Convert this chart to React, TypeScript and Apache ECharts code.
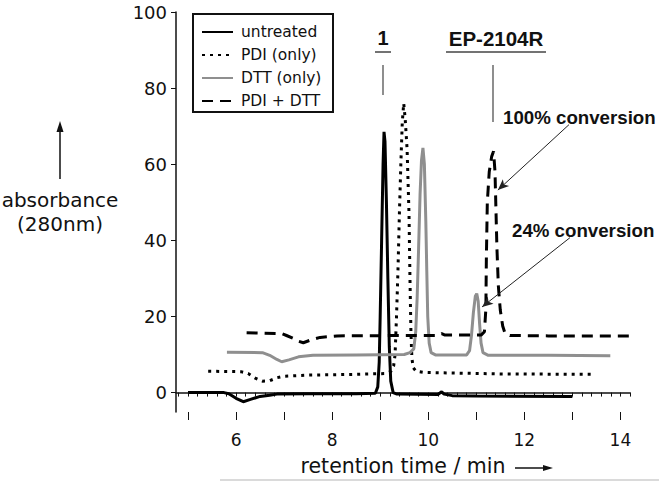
import React, { useEffect, useRef } from "react";
import * as echarts from "echarts";

// ---- data (retention time [min], absorbance) ----
const untreated: [number, number][] = [
  [5.0, 0], [5.75, 0], [5.85, -0.3], [6.0, -1.5], [6.15, -2.4], [6.3, -1.8], [6.5, -1.0],
  [6.7, -0.7], [6.85, -0.4], [7.5, -0.3], [8.5, -0.3], [8.9, -0.2], [8.95, 1.5], [8.98, 8],
  [9.0, 20], [9.03, 40], [9.06, 60], [9.08, 68.5], [9.1, 66], [9.13, 50], [9.16, 30],
  [9.19, 12], [9.22, 3], [9.27, 0], [9.35, -0.4], [10.2, -0.5], [10.28, 0.2], [10.33, -0.4],
  [10.5, -0.8], [11.0, -0.9], [13.0, -1.0],
];
const pdiOnly: [number, number][] = [
  [5.42, 5.6], [6.1, 5.5], [6.25, 5.0], [6.4, 3.8], [6.55, 3.0], [6.7, 3.1], [6.85, 3.9],
  [7.0, 4.3], [7.5, 4.6], [8.5, 4.8], [9.1, 5.0], [9.22, 5.5], [9.28, 7], [9.31, 10],
  [9.34, 20], [9.37, 32], [9.4, 47], [9.43, 60], [9.46, 71], [9.49, 76], [9.52, 72],
  [9.56, 64], [9.6, 47], [9.62, 30], [9.64, 16], [9.66, 9], [9.69, 6.5], [9.75, 5.6],
  [9.9, 5.3], [10.7, 5.1], [11.5, 4.9], [13.4, 4.8],
];
const dttOnly: [number, number][] = [
  [5.81, 10.6], [6.55, 10.5], [6.7, 9.8], [6.85, 8.7], [6.95, 8.1], [7.1, 8.6], [7.3, 9.4],
  [7.6, 9.8], [8.5, 9.9], [9.5, 10.0], [9.62, 10.5], [9.7, 11.5], [9.74, 16], [9.77, 25],
  [9.8, 38], [9.83, 52], [9.86, 61], [9.89, 64.3], [9.92, 60], [9.95, 45], [9.97, 32],
  [9.99, 20], [10.02, 13], [10.06, 10.5], [10.15, 9.9], [10.8, 9.9], [10.86, 11], [10.9, 15],
  [10.94, 21], [10.98, 25.3], [11.01, 26], [11.04, 24], [11.07, 18], [11.1, 13], [11.14, 10.5],
  [11.25, 9.8], [12.5, 9.8], [13.79, 9.7],
];
const pdiDtt: [number, number][] = [
  [6.22, 15.7], [6.95, 15.5], [7.05, 15.0], [7.18, 14.3], [7.3, 13.5], [7.4, 13.1], [7.55, 13.8],
  [7.75, 14.5], [8.1, 14.9], [9.5, 15.0], [10.2, 15.0], [10.28, 15.5], [10.35, 15.1], [11.1, 15.1],
  [11.17, 16], [11.2, 22], [11.21, 35], [11.23, 50], [11.27, 58], [11.32, 62], [11.36, 63.4],
  [11.39, 58], [11.41, 48], [11.43, 38], [11.46, 28], [11.5, 21.7], [11.55, 17.5], [11.6, 15.5],
  [11.7, 15.0], [12.5, 14.9], [14.2, 14.9],
];
const seriesNames = ["untreated", "PDI (only)", "DTT (only)", "PDI + DTT"];
const yTicks = [0, 20, 40, 60, 80, 100];
const xLabels = [6, 8, 10, 12, 14];
const xIntTicks = [5, 6, 7, 8, 9, 10, 11, 12, 13, 14];
const xMinorTicks: number[] = [];
for (let i = 0; i <= 47; i++) xMinorTicks.push(Math.round((4.8 + i * 0.2) * 10) / 10);

// arrows: [text end, peak end] in data coordinates
const arrow100: [number, number][] = [[12.93, 70.4], [11.45, 53.2]];
const arrow24: [number, number][] = [[12.95, 40.7], [11.12, 22.5]];

const FONT = "DejaVu Sans";
const BOLD = "Liberation Sans";

export default function App() {
  const ref = useRef<HTMLDivElement>(null);
  useEffect(() => {
    if (!ref.current) return;
    const chart = echarts.init(ref.current, undefined, { renderer: "svg" });
    const arrowMark = (pts: [number, number][]) => ({
      silent: true,
      symbol: ["none", "arrow"],
      symbolSize: [7, 11],
      label: { show: false },
      lineStyle: { type: "solid", width: 1, color: "#222" },
      emphasis: { disabled: true },
      data: [[{ coord: pts[0] }, { coord: pts[1] }]],
    });
    chart.setOption({
      animation: false,
      grid: { left: 176, right: 29, top: 12, bottom: 63, containLabel: false },
      legend: {
        orient: "vertical",
        left: 201,
        top: 24,
        padding: 0,
        itemWidth: 31,
        itemHeight: 14,
        itemGap: 7,
        selectedMode: false,
        data: seriesNames,
        itemStyle: { opacity: 0 },
        textStyle: { fontFamily: FONT, fontSize: 15.5, color: "#111", padding: [0, 0, 0, 3] },
      },
      xAxis: [
        {
          type: "value",
          min: 4.75,
          max: 14.2,
          name: "retention time / min",
          nameLocation: "middle",
          nameGap: 43,
          nameTextStyle: { fontFamily: FONT, fontSize: 20.5, color: "#111" },
          axisLine: { show: true, lineStyle: { color: "#111", width: 1.5 } },
          axisTick: { show: true, length: 4, customValues: xMinorTicks, lineStyle: { color: "#111", width: 1 } },
          axisLabel: { customValues: xLabels, margin: 19, fontFamily: FONT, fontSize: 17, color: "#111" },
          splitLine: { show: false },
        },
        {
          type: "value",
          min: 4.75,
          max: 14.2,
          position: "bottom",
          axisLine: { show: false },
          axisTick: { show: true, length: 8, customValues: xIntTicks, lineStyle: { color: "#111", width: 1 } },
          axisLabel: { show: false },
          splitLine: { show: false },
        },
      ],
      yAxis: {
        type: "value",
        min: -5.1,
        max: 100,
        axisLine: { show: true, lineStyle: { color: "#111", width: 1.5 } },
        axisTick: { show: true, length: 5, customValues: yTicks, lineStyle: { color: "#111", width: 1 } },
        axisLabel: { customValues: yTicks, margin: 9, fontFamily: FONT, fontSize: 18, color: "#111" },
        splitLine: { show: false },
      },
      series: [
        {
          name: seriesNames[0], type: "line", data: untreated, symbol: "none", smooth: false,
          lineStyle: { color: "#000", width: 3 }, itemStyle: { color: "#000" },
        },
        {
          name: seriesNames[1], type: "line", data: pdiOnly, symbol: "none", smooth: false,
          lineStyle: { color: "#000", width: 3, type: [3, 5] }, itemStyle: { color: "#000" },
        },
        {
          name: seriesNames[2], type: "line", data: dttOnly, symbol: "none", smooth: false,
          lineStyle: { color: "#8f8f8f", width: 3 }, itemStyle: { color: "#8f8f8f" },
          markLine: arrowMark(arrow24),
        },
        {
          name: seriesNames[3], type: "line", data: pdiDtt, symbol: "none", smooth: false,
          lineStyle: { color: "#000", width: 3, type: [11, 7] }, itemStyle: { color: "#000" },
          markLine: arrowMark(arrow100),
        },
      ],
      graphic: [
        // legend frame
        { type: "rect", shape: { x: 193, y: 14, width: 140, height: 98 }, style: { fill: "none", stroke: "#111", lineWidth: 2 }, silent: true },
        // y axis title and arrow
        { type: "text", x: 60, y: 200, style: { text: "absorbance", font: `20px "${FONT}"`, fill: "#111", align: "center", verticalAlign: "middle" } },
        { type: "text", x: 60, y: 224, style: { text: "(280nm)", font: `20px "${FONT}"`, fill: "#111", align: "center", verticalAlign: "middle" } },
        { type: "line", shape: { x1: 60, y1: 179, x2: 60, y2: 130 }, style: { stroke: "#111", lineWidth: 1.5 } },
        { type: "polygon", shape: { points: [[60, 121], [56.5, 132], [63.5, 132]] }, style: { fill: "#111" } },
        // x title arrow
        { type: "line", shape: { x1: 515, y1: 468, x2: 545, y2: 468 }, style: { stroke: "#111", lineWidth: 1.5 } },
        { type: "polygon", shape: { points: [[553, 468], [543, 465], [543, 471]] }, style: { fill: "#111" } },
        // peak labels
        { type: "text", x: 383, y: 38, style: { text: "1", font: `bold 20px "${BOLD}"`, fill: "#111", align: "center", verticalAlign: "middle" } },
        { type: "line", shape: { x1: 375, y1: 52, x2: 391, y2: 52 }, style: { stroke: "#444", lineWidth: 1.5 } },
        { type: "line", shape: { x1: 383, y1: 65, x2: 383, y2: 95 }, style: { stroke: "#444", lineWidth: 1.2 } },
        { type: "text", x: 496, y: 38, style: { text: "EP-2104R", font: `bold 20.5px "${BOLD}"`, fill: "#111", align: "center", verticalAlign: "middle" } },
        { type: "line", shape: { x1: 446, y1: 52, x2: 546, y2: 52 }, style: { stroke: "#444", lineWidth: 1.5 } },
        { type: "line", shape: { x1: 493, y1: 65, x2: 493, y2: 122 }, style: { stroke: "#444", lineWidth: 1.2 } },
        { type: "text", x: 503, y: 117, style: { text: "100% conversion", font: `bold 18.7px "${BOLD}"`, fill: "#111", align: "left", verticalAlign: "middle" } },
        { type: "text", x: 512, y: 230, style: { text: "24% conversion", font: `bold 18.7px "${BOLD}"`, fill: "#111", align: "left", verticalAlign: "middle" } },
        // thin line at the bottom edge
        { type: "line", shape: { x1: 220, y1: 480, x2: 659, y2: 480 }, style: { stroke: "#b5b5b5", lineWidth: 1 } },
      ],
    });
    return () => chart.dispose();
  }, []);
  return <div ref={ref} style={{ width: 659, height: 481, position: "absolute", left: 0, top: 0 }} />;
}
